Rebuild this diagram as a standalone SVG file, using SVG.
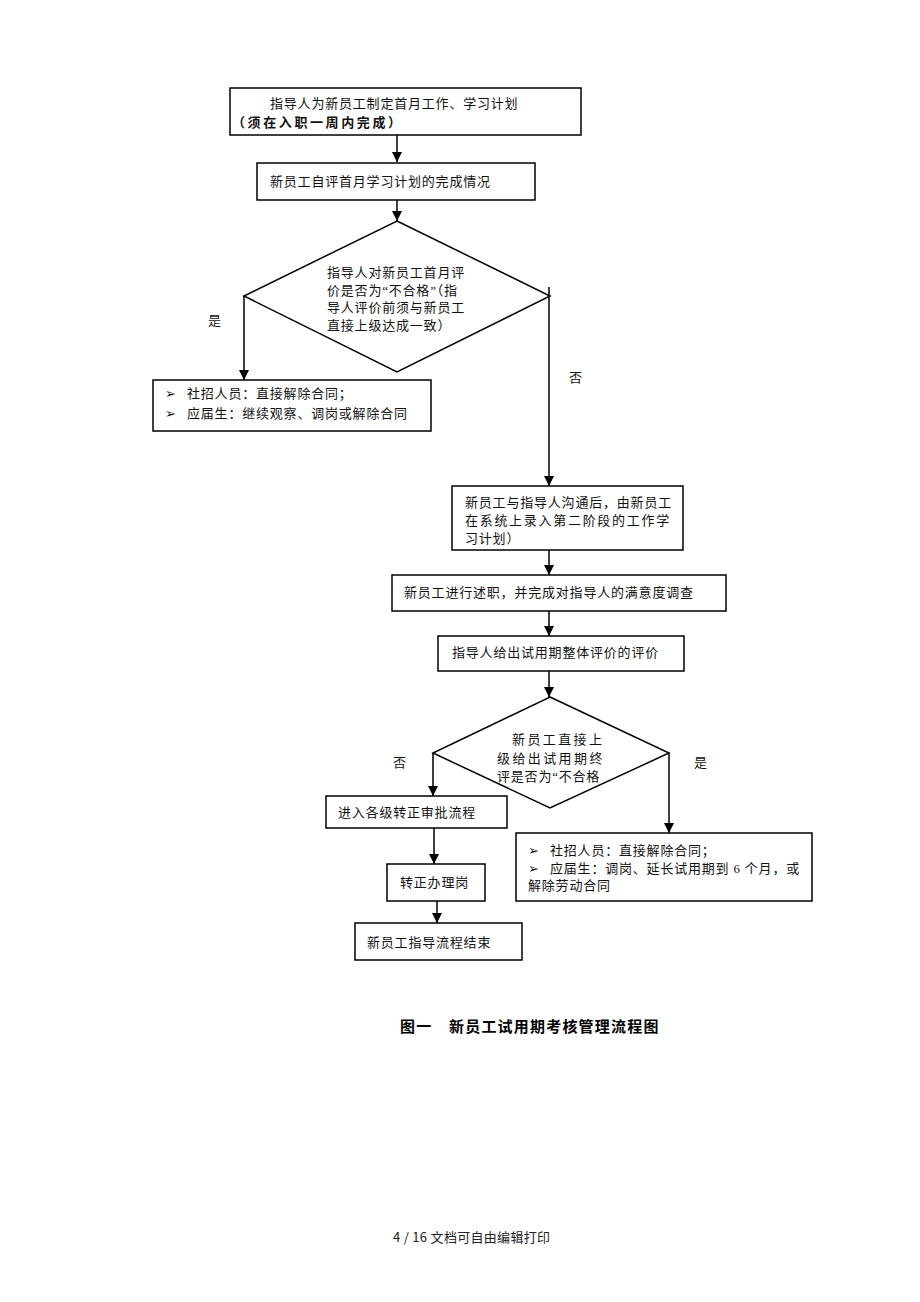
<svg xmlns="http://www.w3.org/2000/svg" width="920" height="1302" viewBox="0 0 920 1302">
<style>
.box{fill:#fff;stroke:#000;stroke-width:1.5}
.t{font-family:"Liberation Serif","Noto Sans CJK SC",serif;font-size:13px;letter-spacing:0.8px;fill:#111}
.b{font-weight:bold;letter-spacing:2.6px}
.sp{letter-spacing:2.4px}
.ln{fill:none;stroke:#000;stroke-width:1.5}
.cap{font-family:"Liberation Sans","Noto Sans CJK SC",sans-serif;font-size:15px;font-weight:bold;letter-spacing:1.2px;fill:#000}
.ft{font-family:"Noto Sans CJK SC",sans-serif;font-size:13px;fill:#222}
</style>
<defs>
<marker id="ah" markerUnits="userSpaceOnUse" markerWidth="10" markerHeight="12" refX="10" refY="5" orient="auto">
<path d="M0,0 L10,5 L0,10 z" fill="#000"/>
</marker>
</defs>
<rect width="920" height="1302" fill="#fff"/>

<g id="connectors">
<line class="ln" x1="397" y1="135" x2="397" y2="162" marker-end="url(#ah)"/>
<line class="ln" x1="397" y1="200" x2="397" y2="221" marker-end="url(#ah)"/>
<line class="ln" x1="244" y1="296" x2="244" y2="380" marker-end="url(#ah)"/>
<line class="ln" x1="549" y1="287" x2="549" y2="486" marker-end="url(#ah)"/>
<line class="ln" x1="549" y1="550" x2="549" y2="575" marker-end="url(#ah)"/>
<line class="ln" x1="549" y1="611" x2="549" y2="636" marker-end="url(#ah)"/>
<line class="ln" x1="549" y1="671" x2="549" y2="697" marker-end="url(#ah)"/>
<line class="ln" x1="433" y1="753" x2="433" y2="796" marker-end="url(#ah)"/>
<line class="ln" x1="669" y1="753" x2="669" y2="833" marker-end="url(#ah)"/>
<line class="ln" x1="434" y1="828" x2="434" y2="864" marker-end="url(#ah)"/>
<line class="ln" x1="437" y1="901" x2="437" y2="923" marker-end="url(#ah)"/>
<text class="t" x="208" y="325">是</text>
<text class="t" x="569" y="382">否</text>
<text class="t" x="393" y="767">否</text>
<text class="t" x="694" y="767">是</text>
</g>

<g id="n1">
<rect class="box" x="230" y="88" width="351" height="47"/>
<text class="t" x="270" y="108">指导人为新员工制定首月工作、学习计划</text>
<text class="t b" x="232" y="127">（须在入职一周内完成）</text>
</g>

<g id="n2">
<rect class="box" x="257" y="163" width="278" height="37"/>
<text class="t" x="270" y="186">新员工自评首月学习计划的完成情况</text>
</g>

<g id="d1">
<polygon class="box" points="397,221 550,296 397,372 244,296"/>
<text class="t" x="327" y="277">指导人对新员工首月评</text>
<text class="t" x="327" y="295">价是否为“不合格”（指</text>
<text class="t" x="327" y="312">导人评价前须与新员工</text>
<text class="t" x="327" y="330">直接上级达成一致）</text>
</g>

<g id="n3">
<rect class="box" x="153" y="380" width="278" height="51"/>
<text class="t" x="165" y="398">➢</text>
<text class="t" x="187" y="398">社招人员：直接解除合同；</text>
<text class="t" x="165" y="418">➢</text>
<text class="t" x="187" y="418">应届生：继续观察、调岗或解除合同</text>
</g>

<g id="n4">
<rect class="box" x="452" y="486" width="231" height="64"/>
<text class="t" x="465" y="507">新员工与指导人沟通后，由新员工</text>
<text class="t" x="465" y="525" textLength="205">在系统上录入第二阶段的工作学</text>
<text class="t" x="465" y="543">习计划）</text>
</g>

<g id="n5">
<rect class="box" x="392" y="575" width="334" height="36"/>
<text class="t" x="404" y="597">新员工进行述职，并完成对指导人的满意度调查</text>
</g>

<g id="n6">
<rect class="box" x="438" y="636" width="246" height="35"/>
<text class="t" x="452" y="657">指导人给出试用期整体评价的评价</text>
</g>

<g id="d2">
<polygon class="box" points="550,697 669,753 550,808 433,753"/>
<text class="t sp" x="512" y="744">新员工直接上</text>
<text class="t sp" x="497" y="763">级给出试用期终</text>
<text class="t" x="497" y="781">评是否为“不合格</text>
</g>

<g id="n7">
<rect class="box" x="326" y="796" width="181" height="32"/>
<text class="t" x="338" y="817">进入各级转正审批流程</text>
</g>

<g id="n8">
<rect class="box" x="387" y="864" width="98" height="37"/>
<text class="t" x="400" y="887">转正办理岗</text>
</g>

<g id="n9">
<rect class="box" x="355" y="923" width="167" height="37"/>
<text class="t" x="367" y="947">新员工指导流程结束</text>
</g>

<g id="n10">
<rect class="box" x="516" y="833" width="296" height="68"/>
<text class="t" x="528" y="855">➢</text>
<text class="t" x="550" y="855">社招人员：直接解除合同；</text>
<text class="t" x="528" y="873">➢</text>
<text class="t" x="550" y="873">应届生：调岗、延长试用期到 6 个月，或</text>
<text class="t" x="528" y="890">解除劳动合同</text>
</g>

<g id="caption">
<text class="cap" x="400" y="1032">图一</text>
<text class="cap" x="449" y="1032">新员工试用期考核管理流程图</text>
</g>

<g id="footer">
<text class="ft" x="393" y="1242" letter-spacing="0.3">4 / 16 文档可自由编辑打印</text>
</g>
</svg>
